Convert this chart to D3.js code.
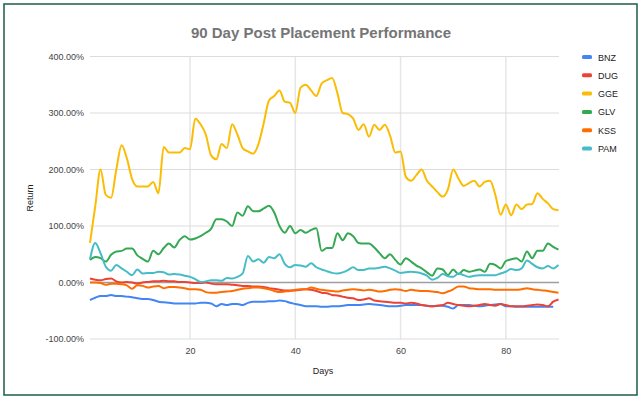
<!DOCTYPE html>
<html>
<head>
<meta charset="utf-8">
<script src="https://cdn.jsdelivr.net/npm/d3@7"></script>
<style>
  body { margin: 0; background: #fff; }
  text { font-family: Arial, "Liberation Sans", sans-serif; }
</style>
</head>
<body>
<div id="chart"></div>
<script>
// chart data (return in %, one value per day)
var series = ["BNZ", "DUG", "GGE", "GLV", "KSS", "PAM"];
var colors = ["#4285f4", "#ea4335", "#fbbc04", "#34a853", "#ff6d01", "#46bdc6"];
var yTicks = [-100, 0, 100, 200, 300, 400];
var xTicks = [20, 40, 60, 80];

var bnz = [-31,-27,-24,-24,-22,-24,-24,-25,-26,-28,-29,-29,-31,-34,-35,-36,-37,-37,-37,-37,
  -37,-36,-36,-37,-42,-38,-40,-38,-38,-40,-36,-34,-34,-34,-33,-33,-32,-33,-36,-38,
  -40,-42,-42,-42,-43,-43,-42,-42,-41,-40,-40,-40,-39,-38,-39,-40,-41,-42,-42,-41,
  -40,-40,-40,-40,-41,-42,-41,-41,-43,-46,-40,-40,-40,-41,-42,-41,-40,-39,-38,-42,
  -42,-43,-43,-43,-43,-43,-43,-43,-43];
var dug = [7,5,4,6,7,2,0,1,0,-2,0,1,2,2,3,2,2,1,1,0,
  -1,-1,0,-2,-3,-3,-3,-4,-5,-6,-6,-7,-7,-8,-10,-11,-13,-14,-14,-14,
  -13,-12,-13,-15,-18,-19,-22,-23,-25,-27,-28,-31,-30,-28,-32,-33,-34,-35,-36,-36,
  -37,-36,-37,-40,-41,-42,-41,-40,-36,-38,-40,-41,-42,-41,-40,-38,-40,-41,-38,-40,
  -42,-42,-42,-41,-40,-39,-40,-42,-34,-30];
var gge = [70,135,200,155,150,200,243,220,183,170,170,170,178,158,240,230,230,230,238,236,
  290,280,262,225,218,245,238,280,262,238,232,228,245,282,322,330,340,320,318,300,
  345,350,340,330,352,358,362,335,300,298,290,270,280,258,279,270,279,260,230,232,
  187,180,190,200,180,170,160,152,165,200,184,171,176,180,170,178,180,155,120,138,
  119,138,130,138,139,158,148,140,130,128];
var glv = [40,45,43,37,49,55,56,60,60,48,42,37,56,50,61,69,62,75,82,76,
  78,82,88,95,112,112,108,100,124,118,135,126,126,131,136,124,100,88,100,87,
  93,88,93,96,56,61,61,87,75,87,82,70,69,69,62,52,43,50,40,32,
  43,37,30,25,18,12,25,23,13,23,15,22,19,21,23,19,33,31,25,38,
  41,43,37,55,43,56,56,69,63,58];
var kss = [0,0,-1,-4,-2,-2,-3,-5,-11,-5,-6,-9,-7,-6,-10,-8,-8,-9,-10,-12,
  -12,-13,-17,-18,-18,-17,-16,-15,-13,-11,-10,-9,-9,-10,-12,-15,-17,-16,-15,-13,
  -12,-12,-9,-11,-13,-14,-15,-16,-14,-13,-12,-13,-14,-13,-14,-16,-15,-13,-12,-13,
  -15,-13,-14,-15,-15,-16,-17,-19,-16,-12,-7,-7,-10,-11,-12,-12,-12,-13,-13,-13,
  -13,-13,-12,-10,-12,-13,-14,-15,-17,-18];
var pam = [41,70,52,28,21,31,25,19,13,23,16,17,17,19,18,14,15,14,12,10,
  6,1,2,4,4,3,8,7,10,16,47,37,41,35,45,43,50,33,27,31,
  30,28,34,27,23,20,17,16,18,22,27,22,22,25,25,26,28,25,21,17,
  18,19,18,16,12,5,8,15,11,10,16,13,10,12,13,13,13,13,16,19,
  24,22,25,39,33,27,25,29,25,31];

var values = [bnz, dug, gge, glv, kss, pam];

var svgWidth = 643;
var svgHeight = 401;

var svg = d3.select("#chart")
  .append("svg")
  .attr("width", svgWidth)
  .attr("height", svgHeight);

// outer frame
svg.append("rect")
  .attr("x", 4).attr("y", 4)
  .attr("width", 633).attr("height", 391)
  .attr("fill", "#fff")
  .attr("stroke", "#1d5c4a")
  .attr("stroke-width", 1.5);

var xScale = d3.scaleLinear().domain([1, 90]).range([90, 558.5]);
var yScale = d3.scaleLinear().domain([-100, 400]).range([339, 56.5]);

// gridlines
svg.append("g").selectAll("line")
  .data(xTicks)
  .enter()
  .append("line")
  .attr("x1", d => xScale(d)).attr("x2", d => xScale(d))
  .attr("y1", yScale(400)).attr("y2", yScale(-100))
  .attr("stroke", "#e6e6e6")
  .attr("stroke-width", 1.5);

svg.append("g").selectAll("line")
  .data(yTicks)
  .enter()
  .append("line")
  .attr("x1", 90).attr("x2", 559)
  .attr("y1", d => yScale(d)).attr("y2", d => yScale(d))
  .attr("stroke", d => d === 0 ? "#9e9e9e" : "#dcdcdc")
  .attr("stroke-width", d => d === 0 ? 1.5 : 1);

// axes labels (ticks) - plain hyphen for negatives like the source
var leftAxis = d3.axisLeft(yScale)
  .tickValues(yTicks)
  .tickSize(0)
  .tickPadding(6)
  .tickFormat(d => d.toFixed(2) + "%");

var bottomAxis = d3.axisBottom(xScale)
  .tickValues(xTicks)
  .tickSize(0)
  .tickPadding(9);

var yAxisG = svg.append("g")
  .attr("transform", "translate(90,0)")
  .call(leftAxis);

var xAxisG = svg.append("g")
  .attr("transform", `translate(0, ${yScale(-100)})`)
  .call(bottomAxis);

[yAxisG, xAxisG].forEach(function(g) {
  g.select(".domain").remove();
  g.selectAll("text")
    .attr("fill", "#444")
    .attr("font-size", 9)
    .attr("font-family", "Arial, 'Liberation Sans', sans-serif");
});

// lines
var line = d3.line()
  .x((d, i) => xScale(i + 1))
  .y(d => yScale(d))
  .curve(d3.curveMonotoneX);

svg.append("g").selectAll("path")
  .data(values)
  .enter()
  .append("path")
  .attr("d", d => line(d))
  .attr("fill", "none")
  .attr("stroke", (d, i) => colors[i])
  .attr("stroke-width", 2);

// title
svg.append("text")
  .attr("x", 321)
  .attr("y", 38)
  .attr("text-anchor", "middle")
  .attr("font-size", 15)
  .attr("font-weight", "bold")
  .attr("fill", "#757575")
  .text("90 Day Post Placement Performance");

// axis titles
svg.append("text")
  .attr("transform", "translate(33, 198) rotate(-90)")
  .attr("text-anchor", "middle")
  .attr("font-size", 9)
  .attr("fill", "#222")
  .text("Return");

svg.append("text")
  .attr("x", 323)
  .attr("y", 374)
  .attr("text-anchor", "middle")
  .attr("font-size", 9)
  .attr("fill", "#222")
  .text("Days");

// legend
var legend = svg.append("g").selectAll("g")
  .data(series)
  .enter()
  .append("g")
  .attr("transform", (d, i) => `translate(582, ${57 + i * 18.3})`);

legend.append("rect")
  .attr("x", 0).attr("y", -2)
  .attr("width", 10).attr("height", 4)
  .attr("rx", 1.5)
  .attr("fill", (d, i) => colors[i]);

legend.append("text")
  .attr("x", 16)
  .attr("y", 3.5)
  .attr("font-size", 9)
  .attr("fill", "#222")
  .text(d => d);
</script>
</body>
</html>
